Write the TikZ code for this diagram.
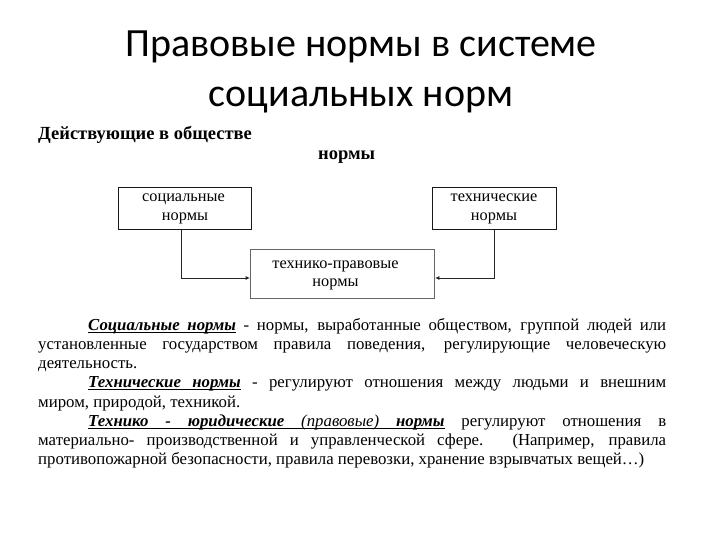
\documentclass[tikz,border=0pt]{standalone}
\usepackage{fontspec}
\setmainfont{Liberation Serif}
\newfontfamily\titlefont{Carlito}
\usetikzlibrary{arrows.meta}
\tikzset{
  normbox/.style={draw=black!90, line width=1pt, inner sep=0pt, align=center, font=\fontsize{16.3}{19.5}\selectfont},
  arr/.style={draw=black!85, line width=0.9pt, -{Latex[length=4.5pt,width=4pt]}}
}
\newcommand{\ulw}[1]{\setbox0\hbox{#1}\leavevmode\rlap{\rule[-2.4pt]{\wd0}{0.8pt}}\box0\relax}
\newcommand{\ulsp}{\leaders\hrule height -1.6pt depth 2.4pt\hskip 4.2pt plus 2.1pt minus 1.4pt\relax}
\newcommand{\bi}[1]{\textbf{\textit{#1}}}
\begin{document}
\begin{tikzpicture}[x=1pt,y=1pt]
\useasboundingbox[fill=white] (0,0) rectangle (720,-540);
\node[font=\titlefont\fontsize{40}{50}\selectfont, align=center, anchor=center] (title) at (361,-72)
  {Правовые нормы в системе\\социальных норм};
\node[font=\bfseries\fontsize{18.5}{20}\selectfont, anchor=west, inner sep=0pt] (h1) at (38,-135) {Действующие в обществе};
\node[font=\bfseries\fontsize{18.5}{20}\selectfont, anchor=west, inner sep=0pt] (h2) at (318,-157) {нормы};
\node[normbox, minimum width=133pt, minimum height=42pt] (soc) at (185,-209) {социальные\hspace*{3pt}\\нормы};
\node[normbox, minimum width=124pt, minimum height=42pt] (tech) at (494,-209) {технические\\нормы};
\node[normbox, draw=black!60, line width=0.9pt, minimum width=184pt, minimum height=49pt] (tp) at (342.5,-273.5) {\raisebox{-3pt}{\begin{tabular}{@{}c@{}}технико-правовые\hspace*{14pt}\\[-1pt]нормы\hspace*{14pt}\end{tabular}}};
\draw[arr] ([xshift=-4pt]soc.south) |- ([yshift=-4.5pt]tp.west);
\draw[arr] (tech.south) |- ([yshift=-4.5pt]tp.east);
\node[anchor=north west, inner sep=0pt] (txt) at (38,-318) {\parbox{628pt}{\fontsize{16.8}{19.2}\selectfont
\setlength{\parindent}{50pt}\hyphenpenalty=10000\emergencystretch=20pt
\indent\ulw{\bi{Социальные}}\ulsp\ulw{\bi{нормы}} - нормы, выработанные обществом, группой людей или\linebreak
установленные государством правила поведения, регулирующие человеческую\linebreak
деятельность.\par
\ulw{\bi{Технические}}\ulsp\ulw{\bi{нормы}} - регулируют отношения между людьми и внешним\linebreak
миром, природой, техникой.\par
\ulw{\bi{Технико}}\ulsp\ulw{\bi{-}}\ulsp\ulw{\bi{юридические}}\ulsp\ulw{\textit{(правовые)}}\ulsp\ulw{\bi{нормы}} регулируют отношения в\linebreak
материально- производственной и управленческой сфере. (Например, правила\linebreak
противопожарной безопасности, правила перевозки, хранение взрывчатых вещей…)\par}};
\end{tikzpicture}
\end{document}
